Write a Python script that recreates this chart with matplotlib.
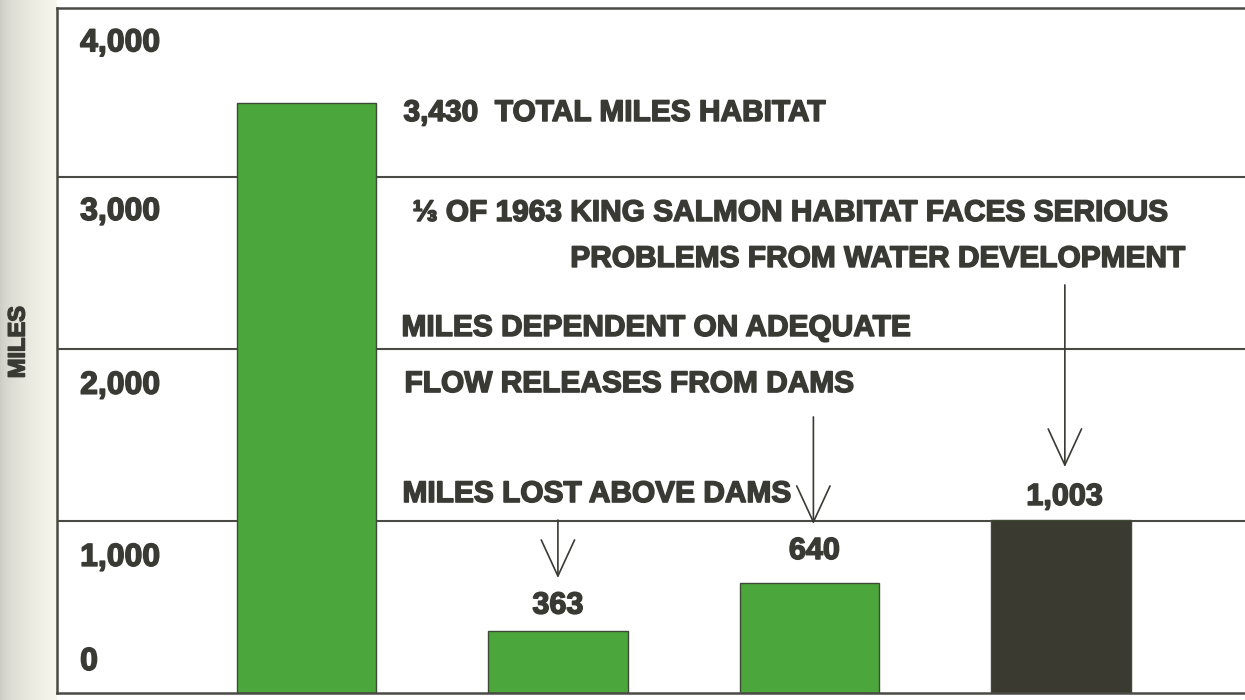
import numpy as np
import matplotlib
matplotlib.use("Agg")
import matplotlib.pyplot as plt
import matplotlib.patheffects as pe

# data
categories = ["total", "lost above dams", "dependent on flow releases", "serious problems"]
miles = [3430, 363, 640, 1003]
value_labels = ["", "363", "640", "1,003"]
bar_colors = ["#4ba73b", "#4ba73b", "#4ba73b", "#3b3a31"]
grid_values = [1000, 2000, 3000]
band_labels = ["4,000", "3,000", "2,000", "1,000", "0"]
band_label_y = [3775, 2795, 1785, 785, 180]

ink = "#3a3a35"
fam = ["Liberation Sans", "DejaVu Sans"]
plt.rcParams["font.family"] = fam
# the print type is heavier than Liberation Sans Bold, thicken it a little
heavy = [pe.withStroke(linewidth=1.1, foreground=ink)]

fig = plt.figure(figsize=(12.45, 7), dpi=100)
fig.patch.set_facecolor("white")

# scanned page edge on the left
bg = fig.add_axes([0, 0, 57 / 1245, 1])
grad = np.linspace(0, 1, 60) ** 0.6
c0 = np.array([0.80, 0.80, 0.77])
c1 = np.array([0.97, 0.97, 0.93])
img = c0 + (c1 - c0) * grad[:, None]
bg.imshow(img[None, :, :], aspect="auto", extent=[0, 1, 0, 1])
bg.axis("off")

ax = fig.add_axes([57 / 1245, 7 / 700, (1262 - 57) / 1245, 685 / 700])
ax.set_xlim(-0.992, 3.80)
ax.set_ylim(0, 3980)

for g in grid_values:
    ax.axhline(g, color="#4a4a45", lw=1.5, zorder=1)

x = np.arange(len(miles))
ax.bar(x, miles, width=0.555, color=bar_colors, edgecolor="#3d4a35",
       linewidth=1.0, zorder=2)

for s in ["left", "top", "bottom"]:
    ax.spines[s].set_color("#4a4a45")
    ax.spines[s].set_linewidth(1.8)
ax.spines["right"].set_visible(False)
ax.set_xticks([])
ax.set_yticks([])

for lab, yy in zip(band_labels, band_label_y):
    ax.text(-0.90, yy, lab, fontsize=23, fontweight="bold", color=ink,
            ha="left", va="center", path_effects=heavy)

fig.text(18 / 1245, 1 - 342 / 700, "MILES", rotation=90, fontsize=17,
         fontweight="bold", color=ink, ha="center", va="center",
         path_effects=heavy)

# value labels above the small bars
label_x = [0, 1, 2.02, 3.015]
label_pad = [0, 145, 185, 136]
for i in range(1, len(miles)):
    ax.text(label_x[i], miles[i] + label_pad[i], value_labels[i], fontsize=22,
            fontweight="bold", color=ink, ha="center", va="center",
            path_effects=heavy)

tk = dict(fontsize=21.5, fontweight="bold", color=ink, va="center",
          path_effects=heavy)
ax.text(0.386, 3370, "3,430  TOTAL MILES HABITAT", ha="left", **tk)
ax.text(0.422, 2789, "⅓ OF 1963 KING SALMON HABITAT FACES SERIOUS", ha="left", **tk)
ax.text(3.494, 2522, "PROBLEMS FROM WATER DEVELOPMENT", ha="right", **tk)
ax.text(0.378, 2121, "MILES DEPENDENT ON ADEQUATE", ha="left", **tk)
ax.text(0.39, 1795, "FLOW RELEASES FROM DAMS", ha="left", **tk)
ax.text(0.382, 1156, "MILES LOST ABOVE DAMS", ha="left", **tk)

# pointer arrows (x, start y, tip y)
arrow_x = [1.0, 2.016, 3.016]
arrow_from = [1005, 1604, 2371]
arrow_to = [668, 982, 1313]
for xa, y0, y1 in zip(arrow_x, arrow_from, arrow_to):
    ax.annotate("", xy=(xa, y1), xytext=(xa, y0),
                arrowprops=dict(arrowstyle="->, head_length=1.3, head_width=0.6",
                                mutation_scale=20, color="#3a3a35", lw=1.2,
                                shrinkA=0, shrinkB=0))

fig.savefig("out.png", dpi=100)
